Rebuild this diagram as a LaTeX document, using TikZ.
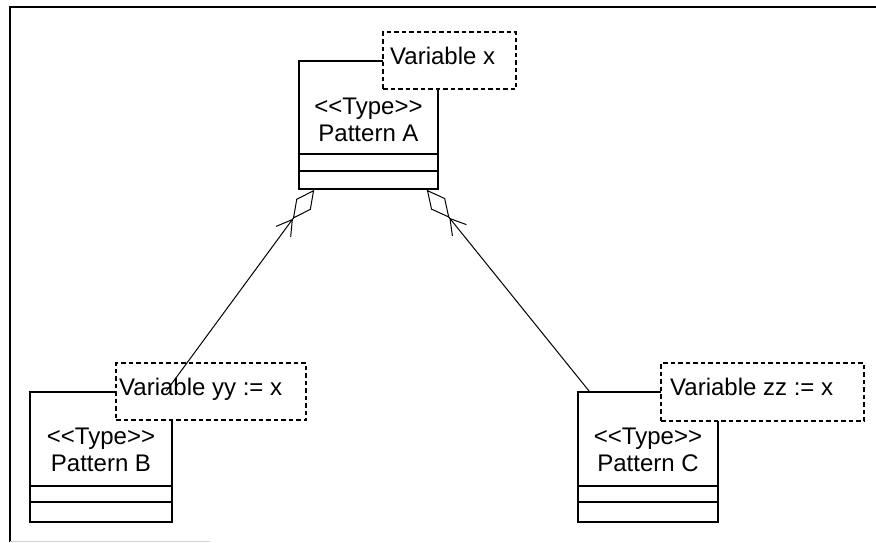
\documentclass[tikz,border=0pt]{standalone}
\usepackage{fontspec}
\newfontfamily\umlfont{Liberation Sans}
\usetikzlibrary{arrows.meta}
\begin{document}
\begin{tikzpicture}[x=1pt,y=-1pt,
  classbox/.style={draw, line width=1.6pt, fill=white, inner sep=0pt},
  divider/.style={line width=1.5pt},
  tplbox/.style={draw, dash pattern=on 4.5pt off 3pt, line width=1.4pt, fill=white, inner sep=0pt},
  umltext/.style={font=\umlfont\fontsize{24}{27}\selectfont, inner sep=0pt},
  assoc/.style={line width=1pt,
    -{Straight Barb[length=15pt,width=18pt,sep=0pt] Diamond[open,length=36pt,width=18pt]}}]
\useasboundingbox (0,0) rectangle (876,542);

% sheet frame
\draw[line width=2pt] (10,542) -- (10,6.5) -- (876,6.5);
\draw[gray!35, line width=1pt] (10,541) -- (210,541);

% ---- Pattern A ----
\node[classbox, minimum width=139pt, minimum height=128pt] (A) at (368.5,125) {};
\draw[divider] (A.west |- 0,154) -- (A.east |- 0,154);
\draw[divider] (A.west |- 0,171) -- (A.east |- 0,171);
\node[tplbox, minimum width=133pt, minimum height=57pt] (Avar) at (449.5,60.5) {};
\node[umltext, anchor=base west] (Avartext) at (390,64) {Variable x};
\node[umltext, anchor=base] (Astereo) at (368.5,114) {<<Type>>};
\node[umltext, anchor=base] (Aname) at (368.5,141) {Pattern A};

% ---- Pattern B ----
\node[classbox, minimum width=142pt, minimum height=130pt] (B) at (101,457) {};
\draw[divider] (B.west |- 0,486) -- (B.east |- 0,486);
\draw[divider] (B.west |- 0,502) -- (B.east |- 0,502);
\node[tplbox, minimum width=190pt, minimum height=57pt] (Bvar) at (211,391.5) {};
\node[umltext, anchor=base west] (Bvartext) at (119,395) {Variable yy := x};
\node[umltext, anchor=base] (Bstereo) at (101,444) {<<Type>>};
\node[umltext, anchor=base] (Bname) at (101,471) {Pattern B};

% ---- Pattern C ----
\node[classbox, minimum width=140pt, minimum height=130pt] (C) at (648,457) {};
\draw[divider] (C.west |- 0,486) -- (C.east |- 0,486);
\draw[divider] (C.west |- 0,502) -- (C.east |- 0,502);
\node[tplbox, minimum width=203pt, minimum height=58pt] (Cvar) at (762.5,392) {};
\node[umltext, anchor=base west] (Cvartext) at (670,395) {Variable zz := x};
\node[umltext, anchor=base] (Cstereo) at (648,444) {<<Type>>};
\node[umltext, anchor=base] (Cname) at (648,471) {Pattern C};

% ---- aggregation links ----
\coordinate (AinL) at ([xshift=16pt]A.south west);
\coordinate (AinR) at ([xshift=-12pt]A.south east);
\coordinate (Bout) at ([xshift=137pt]B.north west);
\coordinate (Cout) at ([xshift=12pt]C.north west);
\draw[assoc] (Bout) -- (AinL);
\draw[assoc] (Cout) -- (AinR);
\end{tikzpicture}
\end{document}
